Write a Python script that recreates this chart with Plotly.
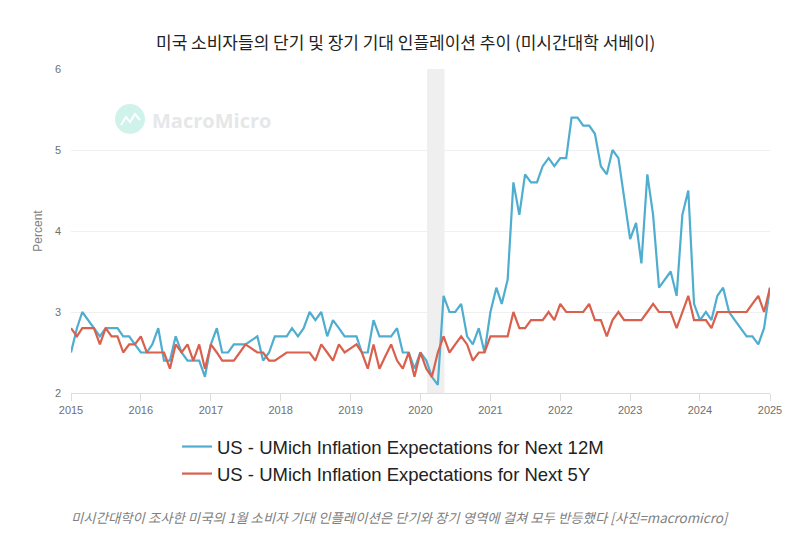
import pandas as pd
import plotly.graph_objects as go

TITLE = "미국 소비자들의 단기 및 장기 기대 인플레이션 추이 (미시간대학 서베이)"
CAPTION = "미시간대학이 조사한 미국의 1월 소비자 기대 인플레이션은 단기와 장기 영역에 걸쳐 모두 반등했다 [사진=macromicro]"
NAME_12M = "US - UMich Inflation Expectations for Next 12M"
NAME_5Y = "US - UMich Inflation Expectations for Next 5Y"
YEARS = list(range(2015, 2026))
Y_TICKS = [2, 3, 4, 5, 6]

expect_12m = [
    2.5, 2.8, 3.0, 2.9, 2.8, 2.7, 2.8, 2.8, 2.8, 2.7, 2.7, 2.6,
    2.5, 2.5, 2.6, 2.8, 2.4, 2.4, 2.7, 2.5, 2.4, 2.4, 2.4, 2.2,
    2.6, 2.8, 2.5, 2.5, 2.6, 2.6, 2.6, 2.65, 2.7, 2.4, 2.5, 2.7,
    2.7, 2.7, 2.8, 2.7, 2.8, 3.0, 2.9, 3.0, 2.7, 2.9, 2.8, 2.7,
    2.7, 2.7, 2.5, 2.5, 2.9, 2.7, 2.7, 2.7, 2.8, 2.5, 2.5, 2.3,
    2.5, 2.4, 2.2, 2.1, 3.2, 3.0, 3.0, 3.1, 2.7, 2.6, 2.8, 2.5,
    3.0, 3.3, 3.1, 3.4, 4.6, 4.2, 4.7, 4.6, 4.6, 4.8, 4.9, 4.8,
    4.9, 4.9, 5.4, 5.4, 5.3, 5.3, 5.2, 4.8, 4.7, 5.0, 4.9, 4.4,
    3.9, 4.1, 3.6, 4.7, 4.2, 3.3, 3.4, 3.5, 3.2, 4.2, 4.5, 3.1,
    2.9, 3.0, 2.9, 3.2, 3.3, 3.0, 2.9, 2.8, 2.7, 2.7, 2.6, 2.8,
    3.3,
]
expect_5y = [
    2.8, 2.7, 2.8, 2.8, 2.8, 2.6, 2.8, 2.7, 2.7, 2.5, 2.6, 2.6,
    2.7, 2.5, 2.5, 2.5, 2.5, 2.3, 2.6, 2.5, 2.6, 2.4, 2.6, 2.3,
    2.6, 2.5, 2.4, 2.4, 2.4, 2.5, 2.6, 2.55, 2.5, 2.5, 2.4, 2.4,
    2.45, 2.5, 2.5, 2.5, 2.5, 2.5, 2.4, 2.6, 2.5, 2.4, 2.6, 2.5,
    2.55, 2.6, 2.5, 2.3, 2.6, 2.3, 2.45, 2.6, 2.4, 2.3, 2.5, 2.2,
    2.5, 2.3, 2.2, 2.5, 2.7, 2.5, 2.6, 2.7, 2.6, 2.4, 2.5, 2.5,
    2.7, 2.7, 2.7, 2.7, 3.0, 2.8, 2.8, 2.9, 2.9, 2.9, 3.0, 2.9,
    3.1, 3.0, 3.0, 3.0, 3.0, 3.1, 2.9, 2.9, 2.7, 2.9, 3.0, 2.9,
    2.9, 2.9, 2.9, 3.0, 3.1, 3.0, 3.0, 3.0, 2.8, 3.0, 3.2, 2.9,
    2.9, 2.9, 2.8, 3.0, 3.0, 3.0, 3.0, 3.0, 3.0, 3.1, 3.0, 3.2,
    3.0,
]
expect_5y[-1] = 3.3
expect_5y[-2] = 3.0
expect_5y[-3] = 3.2
months = pd.date_range("2015-01-01", periods=len(expect_12m), freq="MS")
recession = ["2020-02-05", "2020-05-06"]

W, H = 809, 552
L, R, T, B = 71, 770, 69, 393


def px(x):
    return (x - L) / (R - L)


def py(y):
    return (B - y) / (B - T)


fig = go.Figure()
fig.add_trace(go.Scatter(x=months, y=expect_12m, mode="lines", name=NAME_12M,
                         line=dict(color="#4FADCF", width=2.2)))
fig.add_trace(go.Scatter(x=months, y=expect_5y, mode="lines", name=NAME_5Y,
                         line=dict(color="#D9604C", width=2.2)))

fig.add_shape(type="rect", xref="x", yref="paper", x0=recession[0], x1=recession[1], y0=0, y1=1,
              fillcolor="#EFEFEF", line_width=0, layer="below")
# watermark logo
fig.add_shape(type="circle", xref="paper", yref="paper",
              x0=px(115), x1=px(145), y0=py(134), y1=py(104),
              fillcolor="#CFF3EA", line_width=0, layer="below")
fig.add_shape(type="path", xref="paper", yref="paper", layer="below",
              path=f"M {px(121)} {py(125)} L {px(126)} {py(117)} L {px(130)} {py(122)} "
                   f"L {px(135)} {py(114)} L {px(140)} {py(120)}",
              line=dict(color="white", width=2))

fig.add_annotation(text="MacroMicro", xref="paper", yref="paper", x=px(150),
                   y=py(120), xanchor="left", yanchor="middle", showarrow=False,
                   font=dict(family="Open Sans", size=20, color="#E6E7E9", weight="bold"))
fig.add_annotation(text=TITLE, xref="paper", yref="paper", x=px(405),
                   y=py(41), xanchor="center", yanchor="middle", showarrow=False,
                   font=dict(family="Noto Sans CJK KR", size=17, color="#222222"))
fig.add_annotation(text="<i>" + CAPTION + "</i>", xref="paper", yref="paper", x=px(400),
                   y=py(517), xanchor="center", yanchor="middle", showarrow=False,
                   font=dict(family="Noto Sans CJK KR", size=13.4, color="#808080"))

fig.update_layout(
    width=W, height=H, autosize=False,
    margin=dict(l=L, r=W - R, t=T, b=H - B),
    paper_bgcolor="white", plot_bgcolor="white", showlegend=True,
    legend=dict(x=px(177), y=py(428), xanchor="left", yanchor="top",
                font=dict(family="Liberation Sans", size=18.5, color="#222222"),
                bgcolor="rgba(0,0,0,0)", itemwidth=30, tracegroupgap=0),
)
fig.update_xaxes(range=[months[0], months[-1]], tickvals=[f"{y}-01-01" for y in YEARS],
                 ticktext=[str(y) for y in YEARS], showgrid=False, showline=True,
                 linecolor="#DDDDDD", ticks="outside", tickcolor="#DDDDDD", ticklen=7,
                 tickfont=dict(family="Liberation Sans", size=11, color="#707070"))
fig.update_yaxes(range=[2, 6], tickvals=Y_TICKS, showgrid=True, gridcolor="#F0F0F0", zeroline=False,
                 ticks="", showline=False, ticklabelstandoff=9,
                 tickfont=dict(family="Liberation Sans", size=11, color="#707070"),
                 title=dict(text="Percent", standoff=9,
                            font=dict(family="Liberation Sans", size=12, color="#808080")))
fig.write_html("out.html", post_script="document.body.style.margin='0';",
               config={"displayModeBar": False})
